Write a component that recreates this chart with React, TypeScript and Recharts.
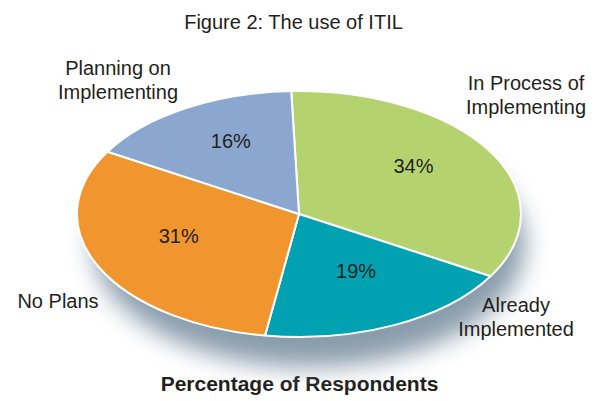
import React from 'react';
import { PieChart, Pie, Cell } from 'recharts';

const categories = ['In Process of Implementing', 'Already Implemented', 'No Plans', 'Planning on Implementing'];
const labelLines = [['In Process of', 'Implementing'], ['Already', 'Implemented'], ['No Plans'], ['Planning on', 'Implementing']];
const values = [34, 19, 31, 16];
const colors = ['#b4d36f', '#00a2b1', '#f1952f', '#8ca7cf'];

const data = categories.map((name, i) => ({ name, value: values[i], lines: labelLines[i] }));
const shadowData = [{ name: 'shadow', value: 1 }];

const W = 594;
const H = 401;
const CX = 299;
const CY = 214;
const RX = 222;
const RY = 123;
const YSCALE = RY / RX;
const RAD = Math.PI / 180;
const FONT = '"Liberation Sans", Arial, Helvetica, sans-serif';
const TEXT = '#231f20';

const ept = (cx: number, cy: number, rx: number, ry: number, a: number) => ({
  x: cx + rx * Math.cos(a * RAD),
  y: cy - ry * Math.sin(a * RAD),
});

const EllipseSector = (props: any) => {
  const { cx, cy, outerRadius, startAngle, endAngle, fill } = props;
  const rx = outerRadius;
  const ry = outerRadius * YSCALE;
  const p0 = ept(cx, cy, rx, ry, startAngle);
  const p1 = ept(cx, cy, rx, ry, endAngle);
  const span = Math.abs(endAngle - startAngle);
  const large = span > 180 ? 1 : 0;
  const sweep = endAngle < startAngle ? 1 : 0;
  const d = `M${cx},${cy} L${p0.x},${p0.y} A${rx},${ry} 0 ${large} ${sweep} ${p1.x},${p1.y} Z`;
  return <path d={d} fill={fill} stroke="#ffffff" strokeWidth={2} strokeLinejoin="round" />;
};

const ShadowShape = (props: any) => {
  const { cx, cy, outerRadius } = props;
  return (
    <g>
      <defs>
        <filter id="pieShadowBlur" x="-30%" y="-30%" width="160%" height="160%">
          <feGaussianBlur stdDeviation="12" />
        </filter>
      </defs>
      <ellipse
        cx={cx + 10}
        cy={cy + 30}
        rx={outerRadius - 6}
        ry={outerRadius * YSCALE}
        fill="#8497a7"
        opacity={0.95}
        filter="url(#pieShadowBlur)"
      />
    </g>
  );
};

const outerPlacement: Record<string, { dx: number; dy: number }> = {
  tr: { dx: 227, dy: -124 },
  br: { dx: 217, dy: 98 },
  bl: { dx: -241, dy: 94 },
  tl: { dx: -181, dy: -139 },
};

const renderLabel = (props: any) => {
  const { cx, cy, outerRadius, midAngle, payload, value } = props;
  const rx = outerRadius;
  const ry = outerRadius * YSCALE;
  const inner = ept(cx, cy, rx * 0.6, ry * 0.6, midAngle);
  const c = Math.cos(midAngle * RAD);
  const s = Math.sin(midAngle * RAD);
  const key = (s >= 0 ? 't' : 'b') + (c >= 0 ? 'r' : 'l');
  const pl = outerPlacement[key];
  const lines: string[] = payload?.lines ?? [];
  return (
    <g>
      <text x={inner.x} y={inner.y - 3} textAnchor="middle" fontFamily={FONT} fontSize={20} fill={TEXT}>
        {`${value}%`}
      </text>
      <text x={cx + pl.dx} y={cy + pl.dy} textAnchor="middle" fontFamily={FONT} fontSize={20} fill={TEXT}>
        {lines.map((ln, i) => (
          <tspan key={i} x={cx + pl.dx} dy={i === 0 ? 0 : 24}>
            {ln}
          </tspan>
        ))}
      </text>
    </g>
  );
};

export default function App() {
  return (
    <div style={{ position: 'absolute', left: 0, top: 0, width: W, height: H, background: '#ffffff' }}>
      <PieChart width={W} height={H} margin={{ top: 0, right: 0, bottom: 0, left: 0 }}>
        <text x={293.5} y={29} textAnchor="middle" fontFamily={FONT} fontSize={20} fill={TEXT}>
          Figure 2: The use of ITIL
        </text>
        <Pie
          data={shadowData}
          dataKey="value"
          cx={CX}
          cy={CY}
          outerRadius={RX}
          startAngle={90}
          endAngle={-270}
          isAnimationActive={false}
          shape={ShadowShape}
          stroke="none"
          label={false}
          labelLine={false}
        />
        <Pie
          data={data}
          dataKey="value"
          nameKey="name"
          cx={CX}
          cy={CY}
          outerRadius={RX}
          startAngle={92}
          endAngle={-268}
          isAnimationActive={false}
          shape={EllipseSector}
          label={renderLabel}
          labelLine={false}
        >
          {data.map((d, i) => (
            <Cell key={d.name} fill={colors[i]} />
          ))}
        </Pie>
        <text x={299.5} y={391} textAnchor="middle" fontFamily={FONT} fontSize={21} fontWeight="bold" fill={TEXT}>
          Percentage of Respondents
        </text>
      </PieChart>
    </div>
  );
}
